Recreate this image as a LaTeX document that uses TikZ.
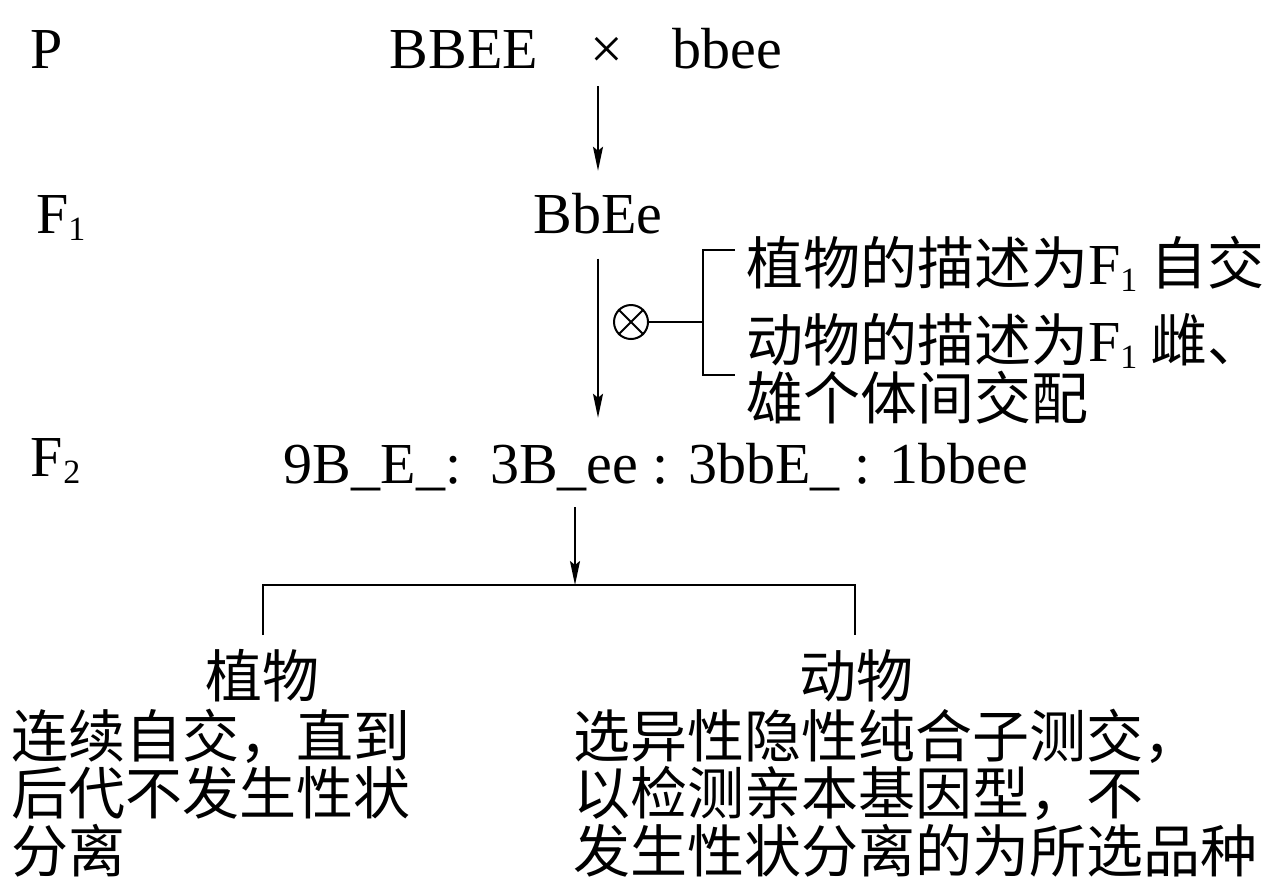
\documentclass[tikz,border=0pt]{standalone}
\usepackage{fontspec}
\setmainfont{Liberation Serif}
\newfontfamily\cjk{Noto Sans CJK SC}
\usetikzlibrary{arrows.meta}
\newcommand{\lowidx}[1]{\raisebox{-0.28ex}{\fontsize{17}{17}\rmfamily #1}}
\begin{document}
\begin{tikzpicture}[x=0.5pt, y=-0.5pt, line width=1pt,
  every node/.style={inner sep=0pt, font=\fontsize{29}{34}\selectfont},
  geno/.style={anchor=base},
  gen/.style={anchor=base west},
  zh/.style={anchor=base west, align=left, font=\fontsize{28.5}{28.75}\cjk},
  zhc/.style={anchor=base, font=\fontsize{28.5}{28.5}\cjk},
  tip/.style={-{Stealth[length=12pt,width=5pt,inset=2pt]}}]
\useasboundingbox (0,0) rectangle (1280,890);
\node[gen] (P) at (30,68) {P};
\node[geno] (pa) at (464,68) {BBEE};
\node[geno] (times) at (607,68) {\texttimes};
\node[geno] (pb) at (727,68) {bbee};
\node[gen] (F1) at (35,233) {F\lowidx{1}};
\node[geno] (f1) at (598,233) {BbEe};
\node[gen] (F2) at (30,476) {F\lowidx{2}};
\node[geno] (f2) at (656,483) {9B\_E\_:\, 3B\_ee : 3bbE\_ : 1bbee};
\node[circle, draw, minimum size=17pt] (self) at (631,322) {};
\draw (self.north west) -- (self.south east) (self.north east) -- (self.south west);
\coordinate (brk) at (703,322);
\coordinate (brT) at (735,250);
\coordinate (brB) at (735,375);
\draw (self.east) -- (brk);
\draw (brT) -- (brT -| brk) -- (brB -| brk) -- (brB);
\node[zh] (selfplant) at (745,284) {植物的描述为{\fontsize{29}{29}\rmfamily F\lowidx{1}} 自交};
\node[zh, font=\fontsize{28.5}{26}\cjk] (selfanimal) at (745,419) {动物的描述为{\fontsize{29}{29}\rmfamily F\lowidx{1}} 雌、\\雄个体间交配};
\draw[tip] (f1.north |- times.south) ++(0,17) -- ([yshift=10.5pt]f1.north);
\draw[tip] ([yshift=-12pt]f1.south) -- ([yshift=12pt]f1.south |- f2.north);
\coordinate (barL) at (263,585);
\coordinate (barR) at (855,585);
\node[zhc] (plant) at (262,697) {植物};
\node[zhc] (animal) at (856,697) {动物};
\draw[tip] ([yshift=-8pt]f2.south -| 575,0) -- (barL -| 575,0);
\draw (barL |- 0,635) -- (barL) -- (barR) -- (barR |- 0,635);
\node[zh] (plantway) at (10,872) {连续自交，直到\\后代不发生性状\\分离};
\node[zh] (animalway) at (572,872) {选异性隐性纯合子测交，\\以检测亲本基因型，不\\发生性状分离的为所选品种};
\end{tikzpicture}
\end{document}
